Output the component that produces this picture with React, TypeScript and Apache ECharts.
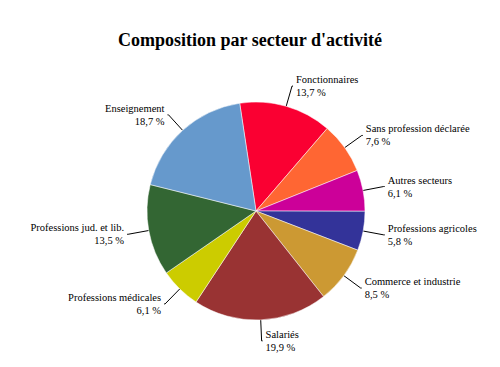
import React, { useEffect, useRef } from "react";
import * as echarts from "echarts";

const categories = [
  "Fonctionnaires",
  "Sans profession déclarée",
  "Autres secteurs",
  "Professions agricoles",
  "Commerce et industrie",
  "Salariés",
  "Professions médicales",
  "Professions jud. et lib.",
  "Enseignement",
];
const values = [13.7, 7.6, 6.1, 5.8, 8.5, 19.9, 6.1, 13.5, 18.7];
const colors = [
  "#FA0032",
  "#FF6633",
  "#CC0099",
  "#333399",
  "#CC9933",
  "#993333",
  "#CCCC00",
  "#336633",
  "#6699CC",
];

const SERIF = "'Liberation Serif', 'DejaVu Serif', serif";

export default function App() {
  const ref = useRef<HTMLDivElement>(null);
  useEffect(() => {
    document.body.style.margin = "0";
    const chart = echarts.init(ref.current!, undefined, { renderer: "svg" });
    chart.setOption({
      animation: false,
      backgroundColor: "#ffffff",
      textStyle: { fontFamily: SERIF },
      title: {
        text: "Composition par secteur d'activité",
        left: "center",
        top: 26,
        textStyle: {
          fontFamily: SERIF,
          fontWeight: "bold",
          fontSize: 18,
          color: "#000",
        },
      },
      series: [
        {
          type: "pie",
          center: [256, 211],
          radius: 109,
          startAngle: 98.6,
          clockwise: true,
          avoidLabelOverlap: false,
          data: categories.map((c, i) => ({
            name: c,
            value: values[i],
            itemStyle: { color: colors[i] },
          })),
          itemStyle: { borderColor: "#ffffff", borderWidth: 0.5 },
          label: {
            show: true,
            position: "outside",
            fontFamily: SERIF,
            fontSize: 10.5,
            lineHeight: 13,
            color: "#000",
            distanceToLabelLine: 3,
            formatter: (p: any) =>
              p.name + "\n" + String(p.value).replace(".", ",") + " %",
          },
          labelLine: {
            show: true,
            length: 21,
            length2: 1,
            lineStyle: { color: "#000", width: 1 },
          },
          emphasis: { disabled: true },
        },
      ],
    });
    return () => chart.dispose();
  }, []);
  return <div ref={ref} style={{ width: 500, height: 367 }} />;
}
